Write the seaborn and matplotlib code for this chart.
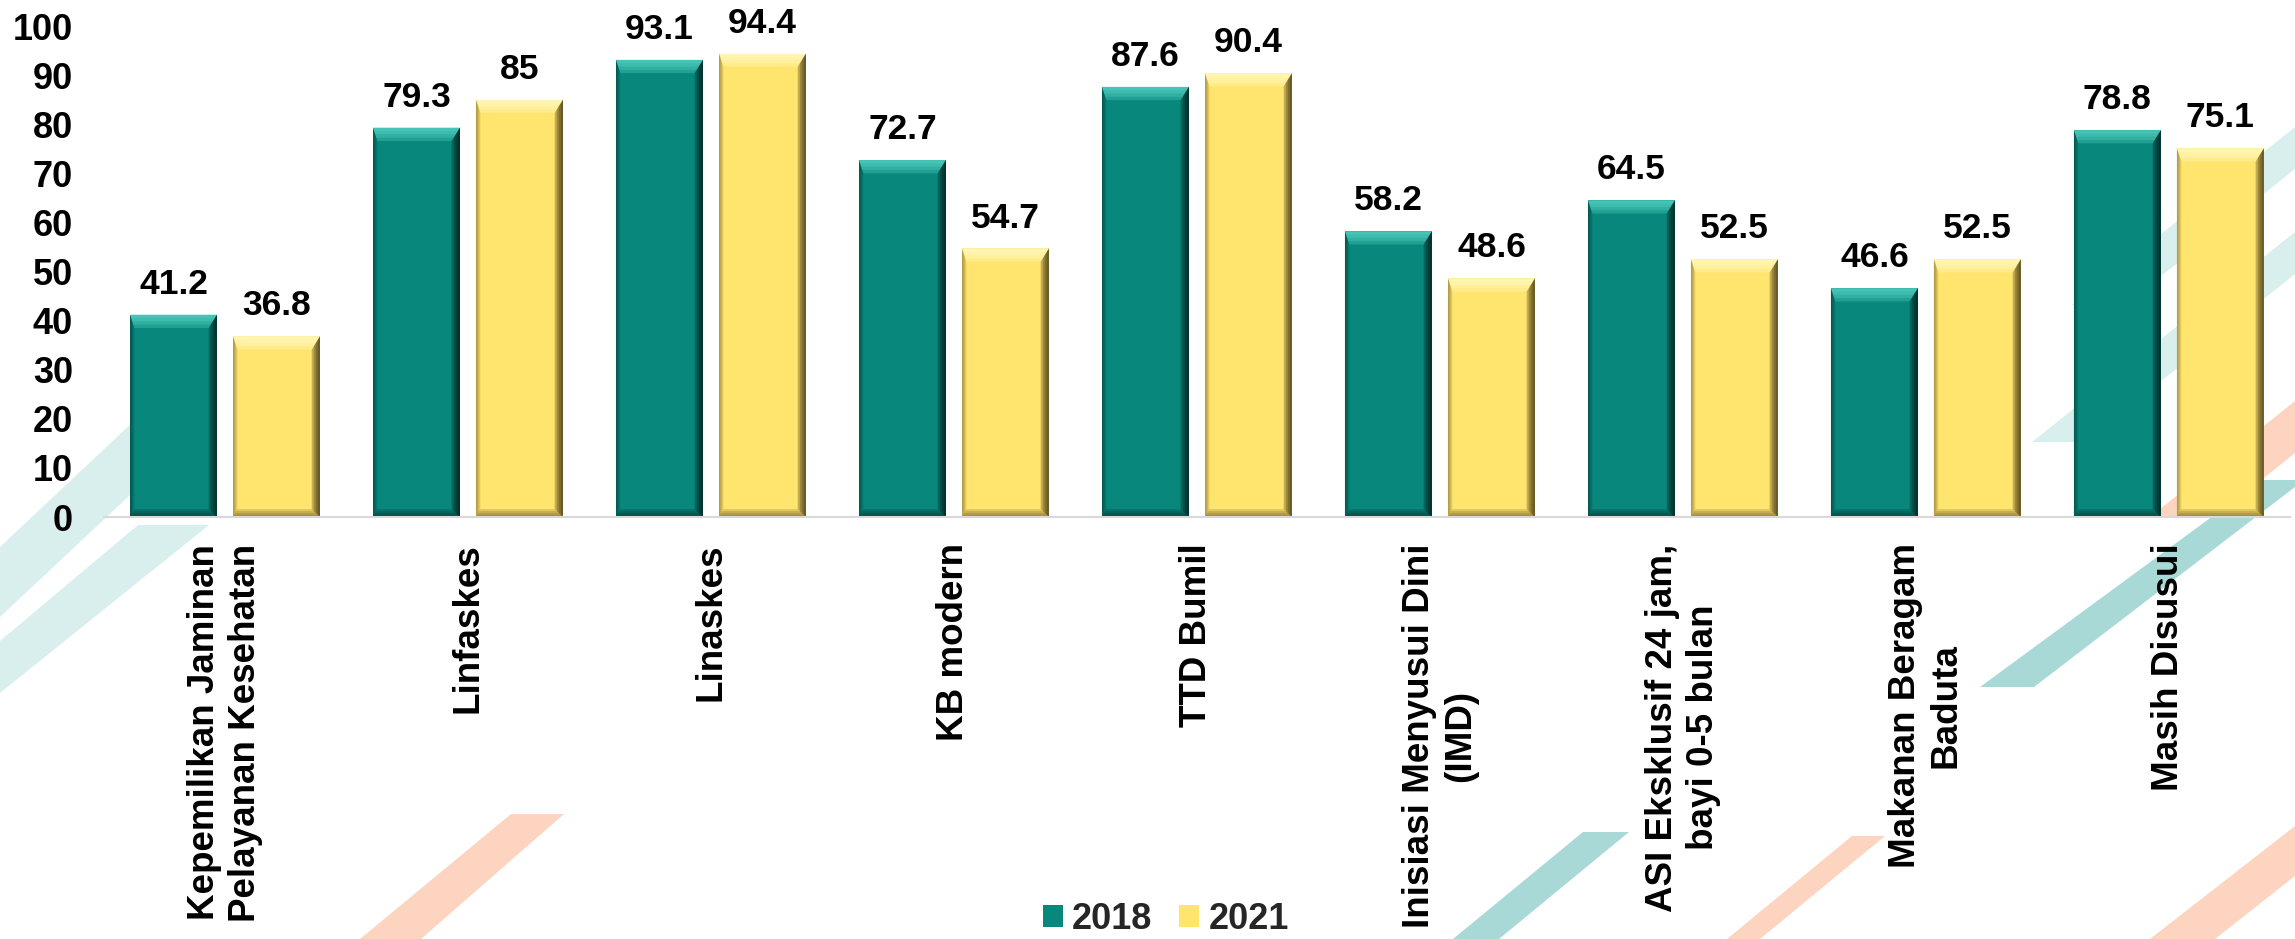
import numpy as np
import pandas as pd
import matplotlib
matplotlib.use("Agg")
import matplotlib.pyplot as plt
import seaborn as sns
from matplotlib.patches import Polygon

# data
categories = [
    "Kepemilikan Jaminan\nPelayanan Kesehatan",
    "Linfaskes",
    "Linaskes",
    "KB modern",
    "TTD Bumil",
    "Inisiasi Menyusui Dini\n(IMD)",
    "ASI Eksklusif 24 jam,\nbayi 0-5 bulan",
    "Makanan Beragam\nBaduta",
    "Masih Disusui",
]
years = ["2018", "2021"]
values_2018 = [41.2, 79.3, 93.1, 72.7, 87.6, 58.2, 64.5, 46.6, 78.8]
values_2021 = [36.8, 85, 94.4, 54.7, 90.4, 48.6, 52.5, 52.5, 75.1]
y_ticks = list(range(0, 101, 10))

TEAL = "#08877c"
YELLOW = "#ffe46e"
# bevel shades: top, right, bottom, left
BEVEL = {
    TEAL: ["#5ad8c8", "#001a17", "#02302b", "#02302b"],
    YELLOW: ["#fffcc8", "#3d3210", "#6b5a20", "#6b5a20"],
}

# background decoration of the slide (pixel coords of the 2295x939 canvas)
W, H = 2295, 939
PALE = "#d9efee"
MID = "#a9d9d6"
PEACH = "#fdd4c0"
bands = [
    ([(135, 420), (210, 420), (0, 617), (0, 547)], PALE),
    ([(138, 525), (209, 525), (0, 693), (0, 641)], PALE),
    ([(511, 814), (564, 814), (421, 939), (360, 939)], PEACH),
    ([(1583, 832), (1629, 832), (1499, 939), (1453, 939)], MID),
    ([(1852, 836), (1885, 836), (1760, 939), (1727, 939)], PEACH),
    ([(2150, 939), (2215, 939), (2295, 876), (2295, 826)], PEACH),
    ([(2072, 305), (2125, 305), (2295, 169), (2295, 127)], PALE),
    ([(2032, 442), (2085, 442), (2295, 274), (2295, 232)], PALE),
    ([(2150, 517), (2215, 517), (2295, 453), (2295, 401)], PEACH),
    ([(1980, 687), (2034, 687), (2295, 487), (2295, 480), (2262, 480)], MID),
]

sns.set_theme(style="white")
plt.rcParams["font.family"] = ["Liberation Sans", "DejaVu Sans"]

fig = plt.figure(figsize=(W / 100, H / 100), dpi=100)
fig.patch.set_facecolor("white")

for pts, col in bands:
    fig.patches.append(Polygon([(x / W, 1 - y / H) for x, y in pts], closed=True,
                               transform=fig.transFigure, facecolor=col,
                               edgecolor="none", zorder=-1))

ax = fig.add_axes([0.0451, 0.4494, 0.9529, 0.5229])
ax.patch.set_visible(False)

df = pd.DataFrame({
    "kategori": categories * 2,
    "tahun": [years[0]] * len(categories) + [years[1]] * len(categories),
    "nilai": values_2018 + values_2021,
})

sns.barplot(data=df, x="kategori", y="nilai", hue="tahun", palette=[TEAL, YELLOW],
            saturation=1, width=0.848, gap=0.156, errorbar=None, linewidth=0, ax=ax)

ax.set_ylim(0, 100)
ax.set_xlim(-0.5, len(categories) - 0.5)


def add_bevel(p, shades, layers=4):
    # stacked translucent trapezoids -> soft gradient toward the bar edges
    top_c, right_c, bot_c, left_c = shades
    x, y, w, h = p.get_x(), p.get_y(), p.get_width(), p.get_height()
    x1, y1 = x + w, y + h
    z = p.get_zorder() + 0.1
    for k in range(1, layers + 1):
        f = k / layers
        bt, br, bl, bb = 2.7 * f, w * 0.095 * f, w * 0.05 * f, 1.6 * f
        shapes = [
            ([(x, y1), (x1, y1), (x1 - br, y1 - bt), (x + bl, y1 - bt)], top_c, 0.3),
            ([(x1, y1), (x1, y), (x1 - br, y + bb), (x1 - br, y1 - bt)], right_c, 0.3),
            ([(x, y), (x1, y), (x1 - br, y + bb), (x + bl, y + bb)], bot_c, 0.22),
            ([(x, y), (x, y1), (x + bl, y1 - bt), (x + bl, y + bb)], left_c, 0.16),
        ]
        for pts, c, a in shapes:
            ax.add_patch(Polygon(pts, closed=True, facecolor=c, edgecolor="none",
                                 alpha=a, zorder=z))


for container, col in zip(ax.containers, [TEAL, YELLOW]):
    for p in container:
        add_bevel(p, BEVEL[col])

for container, vals in zip(ax.containers, [values_2018, values_2021]):
    ax.bar_label(container, labels=[f"{v:g}" for v in vals], padding=10,
                 fontsize=25.5, fontweight="bold", color="black")

ax.set_yticks(y_ticks)
ax.set_yticklabels([str(t) for t in y_ticks], fontsize=26, fontweight="bold")
ax.set_xticks(range(len(categories)))
ax.set_xticklabels(categories, rotation=90, fontsize=26.5, fontweight="bold",
                   ha="center", va="top", multialignment="center")
ax.tick_params(axis="y", length=0, pad=22, colors="black")
ax.tick_params(axis="x", length=0, pad=19, colors="black")
ax.set_xlabel("")
ax.set_ylabel("")

for side in ["left", "top", "right"]:
    ax.spines[side].set_visible(False)
ax.spines["bottom"].set_color("#d9d9d9")
ax.spines["bottom"].set_linewidth(1.5)

handles, labels = ax.get_legend_handles_labels()
if ax.legend_ is not None:
    ax.legend_.remove()
fig.legend(handles, labels, loc="center", bbox_to_anchor=(0.508, 0.021), ncol=2,
           frameon=False, prop={"size": 26, "weight": "bold"},
           handlelength=0.55, handleheight=0.55, handletextpad=0.25,
           columnspacing=0.75, borderpad=0, borderaxespad=0)

fig.savefig("out.png", dpi=100)
